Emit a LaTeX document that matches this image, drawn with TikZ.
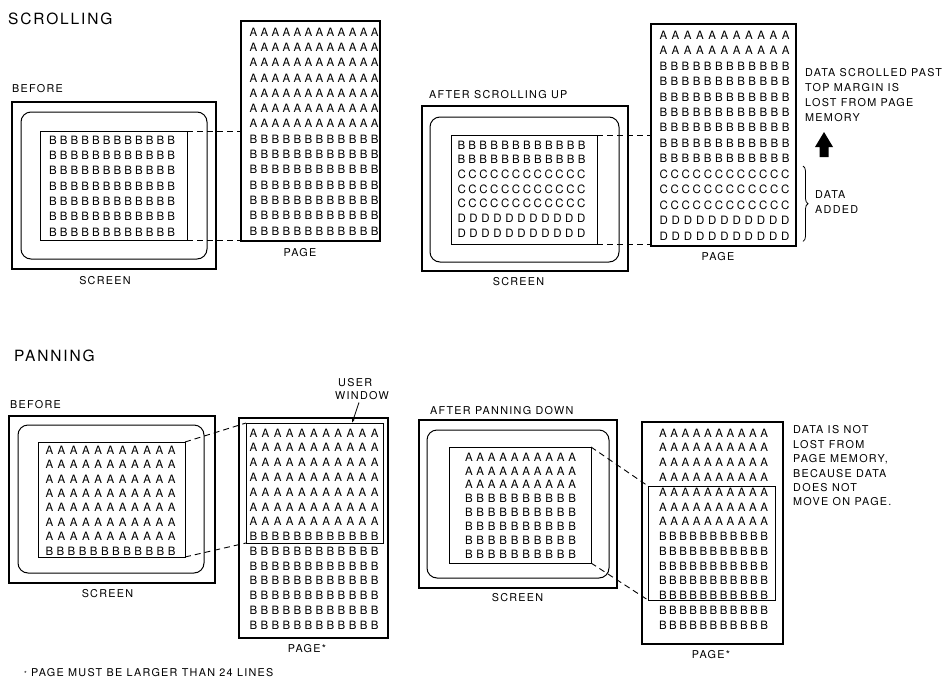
\documentclass[tikz,border=0pt]{standalone}
\usepackage{fontspec}
\setmainfont{TeX Gyre Heros}
\newfontfamily\lblfont{TeX Gyre Heros}[LetterSpace=12]
\newfontfamily\gridfont{TeX Gyre Heros}
\usetikzlibrary{arrows.meta, calc, decorations.pathreplacing}

% one line of page memory: letter, how many, width in pt
\newcommand{\letters}[3]{\hbox to #3pt{#1\foreach\k in {2,...,#2}{\hfill#1}}}

\begin{document}
\begin{tikzpicture}[
        x=1pt, y=-1pt,
        scr/.style={
            draw,
            line width=1.5pt,
            inner sep=0pt,
            outer sep=0pt
        },
        crt/.style={
            draw,
            line width=1pt,
            rounded corners=10pt,
            inner sep=0pt
        },
        win/.style={
            draw,
            line width=0.9pt,
            inner sep=0pt,
            outer sep=0pt
        },
        pagebox/.style={
            draw,
            line width=1.4pt,
            inner sep=0pt,
            outer sep=0pt
        },
        memrow/.style={font=\gridfont\fontsize{11.5}{12}\selectfont, inner sep=0pt},
        lbl/.style={font=\lblfont\fontsize{10.8}{15}\selectfont, inner sep=0pt},
        heading/.style={font=\lblfont\fontsize{15.5}{16}\selectfont, inner sep=0pt, anchor=west},
        link/.style={dash pattern=on 6pt off 4pt, line width=0.9pt},
        databrace/.style={decorate, decoration={brace, amplitude=5pt}, line width=0.8pt}
    ]
        \fill[white] (0,0) rectangle (951,691);
        \useasboundingbox (0,0) rectangle (951,691);

        % scrolling, before
        \node[heading] (scrolltitle) at (8,19) {SCROLLING};
        \node[lbl, anchor=west] (before1) at (12,89) {BEFORE};
        \node[scr, minimum width=204, minimum height=167] (screen1) at (114,185.5) {};
        \node[crt, minimum width=186, minimum height=147] (crt1) at (114,185.5) {};
        \node[win, minimum width=147, minimum height=109] (win1) at (113.5,185.5) {};
        \foreach \l/\n [count=\i] in {B/12,B/12,B/12,B/12,B/12,B/12,B/12}
            \node[memrow] (g1-\i) at (112,{140+15.33*(\i-1)}) {\letters{\l}{\n}{126}};
        \node[lbl] (screenlbl1) at (105,281) {SCREEN};

        \node[pagebox, minimum width=139, minimum height=220] (page1) at (310.5,131) {};
        \foreach \l/\n [count=\i] in {A/12,A/12,A/12,A/12,A/12,A/12,A/12,B/12,B/12,B/12,B/12,B/12,B/12,B/12}
            \node[memrow] (p1-\i) at (314,{32+15.3*(\i-1)}) {\letters{\l}{\n}{129}};
        \node[lbl] (pagelbl1) at (300,253) {PAGE};

        \draw[link] (win1.north east) -- (win1.north east -| page1.west);
        \draw[link] (win1.south east) -- (win1.south east -| page1.west);

        % scrolling, after
        \node[lbl, anchor=west] (after1) at (429,95) {AFTER SCROLLING UP};
        \node[scr, minimum width=206, minimum height=165] (screen2) at (525,188.5) {};
        \node[crt, minimum width=189, minimum height=145] (crt2) at (524.5,189.5) {};
        \node[win, minimum width=146, minimum height=109] (win2) at (524,189.5) {};
        \foreach \l/\n [count=\i] in {B/12,B/12,C/12,C/12,C/12,D/11,D/11}
            \node[memrow] (g2-\i) at (521.5,{145+14.67*(\i-1)}) {\letters{\l}{\n}{128}};
        \node[lbl] (screenlbl2) at (518.5,282) {SCREEN};

        \node[pagebox, minimum width=145, minimum height=222] (page2) at (723.5,135) {};
        \foreach \l/\n [count=\i] in {A/11,A/11,B/12,B/12,B/12,B/12,B/12,B/12,B/12,C/12,C/12,C/12,D/11,D/11}
            \node[memrow] (p2-\i) at (724.5,{35+15.46*(\i-1)}) {\letters{\l}{\n}{130}};
        \node[lbl] (pagelbl2) at (718,257) {PAGE};

        \draw[link] (win2.north east) -- (win2.north east -| page2.west);
        \draw[link] (win2.south east) -- (win2.south east -| page2.west);

        \node[lbl, anchor=west, align=left] (lostnote) at (805,95.5) {
            DATA SCROLLED PAST\\TOP MARGIN IS\\LOST FROM PAGE\\MEMORY
        };
        \fill (824,132) -- (833,147) -- (828.5,147) -- (828.5,157) -- (819.5,157) -- (819.5,147) -- (815,147) -- cycle;
        \draw[databrace] ($(page2.east |- p2-10.north)+(7,-3.5)$) -- ($(page2.east |- p2-14.south)+(7,1)$);
        \node[lbl, anchor=west, align=left] (addednote) at (815,202.5) {DATA\\ADDED};

        % panning, before
        \node[heading] (pantitle) at (14,356) {PANNING};
        \node[lbl, anchor=west] (before2) at (10,405) {BEFORE};
        \node[scr, minimum width=206, minimum height=167] (screen3) at (112,499.5) {};
        \node[crt, minimum width=186, minimum height=148] (crt3) at (111,499) {};
        \node[win, minimum width=147, minimum height=115] (win3) at (111.5,499.5) {};
        \foreach \l/\n [count=\i] in {A/11,A/11,A/11,A/11,A/11,A/11,A/11,B/12}
            \node[memrow] (g3-\i) at (110.5,{450+14.43*(\i-1)}) {\letters{\l}{\n}{130}};
        \node[lbl] (screenlbl3) at (107.5,594) {SCREEN};

        \node[pagebox, minimum width=149, minimum height=220] (page3) at (313.5,528) {};
        \node[win, minimum width=137, minimum height=120] (uwin3) at (314.5,483) {};
        \foreach \l/\n [count=\i] in {A/11,A/11,A/11,A/11,A/11,A/11,A/11,B/12,B/12,B/12,B/12,B/12,B/12,B/12}
            \node[memrow] (p3-\i) at (314,{433+14.77*(\i-1)}) {\letters{\l}{\n}{129}};
        \node[lbl] (pagelbl3) at (307,649) {PAGE*};

        \node[lbl, anchor=west, align=left, font=\lblfont\fontsize{10.8}{13}\selectfont] (uwlbl) at (335,389.5) {\hspace{3pt}USER\\WINDOW};
        \coordinate (uwtip) at ($(uwin3.north west)!0.774!(uwin3.north east)$);
        \draw[line width=0.8pt, -{Latex[length=4pt, width=3pt]}] (359,402.5) -- (uwtip);

        \draw[link] (win3.north east) -- (uwin3.north west);
        \draw[link] (win3.south east) -- (uwin3.south west);

        % panning, after
        \node[lbl, anchor=west] (after2) at (430,411) {AFTER PANNING DOWN};
        \node[scr, minimum width=198, minimum height=168] (screen4) at (518,504) {};
        \node[crt, minimum width=182, minimum height=148] (crt4) at (518,504) {};
        \node[win, minimum width=142, minimum height=116] (win4) at (520,505) {};
        \foreach \l/\n [count=\i] in {A/10,A/10,A/10,B/10,B/10,B/10,B/10,B/10}
            \node[memrow] (g4-\i) at (520.5,{457+13.86*(\i-1)}) {\letters{\l}{\n}{111}};
        \node[lbl] (screenlbl4) at (517.5,598) {SCREEN};

        \node[pagebox, minimum width=141, minimum height=222] (page4) at (712.5,533) {};
        \node[win, minimum width=127, minimum height=114] (uwin4) at (711.5,543) {};
        \foreach \l/\n [count=\i] in {A/10,A/10,A/10,A/10,A/10,A/10,A/10,B/11,B/11,B/11,B/11,B/11,B/11,B/11}
            \node[memrow] (p4-\i) at (713.5,{433+14.77*(\i-1)}) {\letters{\l}{\n}{109}};
        \node[lbl] (pagelbl4) at (711,655) {PAGE*};

        \draw[link] (win4.north east) -- (uwin4.north west);
        \draw[link] (win4.south east) -- (uwin4.south west);

        \node[lbl, anchor=west, align=left, font=\lblfont\fontsize{10.8}{14.4}\selectfont] (keptnote) at (793,466) {
            DATA IS NOT\\LOST FROM\\PAGE MEMORY,\\BECAUSE DATA\\DOES NOT\\MOVE ON PAGE.
        };

        \node[lbl, anchor=west] (footnote) at (24,673) {{\fontsize{7}{8}\selectfont*} PAGE MUST BE LARGER THAN 24 LINES};
    \end{tikzpicture}
\end{document}
